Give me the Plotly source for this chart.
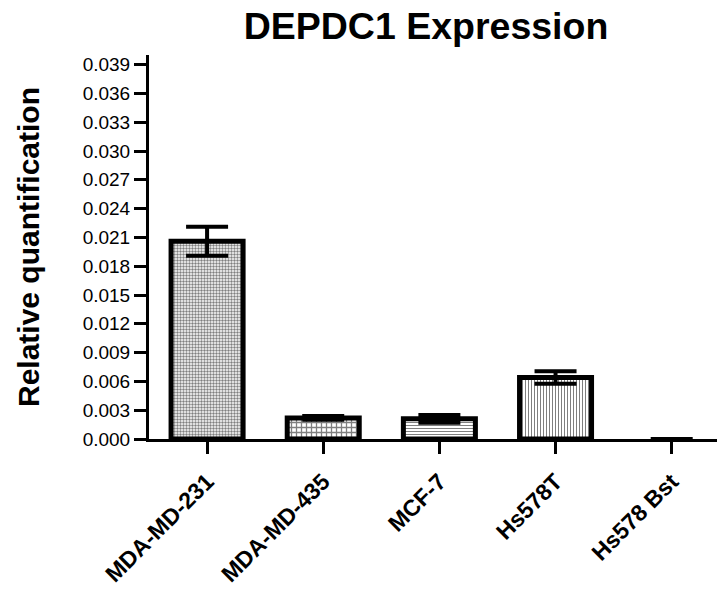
import plotly.graph_objects as go

categories = ["MDA-MD-231", "MDA-MD-435", "MCF-7", "Hs578T", "Hs578 Bst"]
values = [0.0206, 0.0022, 0.0021, 0.0064, 0.0]
errors = [0.0015, 0.0002, 0.0004, 0.00065, 0.00001]
patterns = [".", "+", "-", "|", ""]
pattern_sizes = [3, 5, 3, 3, 3]
pattern_solidity = [0.5, 0.45, 0.35, 0.35, 0.3]
outline_widths = [5, 5, 5, 5, 0]

y_ticks = [round(i * 0.003, 3) for i in range(14)]

fig = go.Figure()
fig.add_trace(go.Bar(
    x=list(range(len(categories))),
    y=values,
    width=0.62,
    marker=dict(
        color="white",
        line=dict(color="black", width=outline_widths),
        pattern=dict(shape=patterns, size=pattern_sizes, solidity=pattern_solidity,
                     fgcolor="black", bgcolor="white", fillmode="overlay"),
    ),
    error_y=dict(type="data", array=errors, visible=True, color="black",
                 thickness=4, width=21),
    showlegend=False,
))

font = "Liberation Sans, Arial, sans-serif"
fig.update_layout(
    width=717, height=594,
    margin=dict(l=149, r=0, t=55, b=155),
    paper_bgcolor="white", plot_bgcolor="white",
    font=dict(family=font, color="black"),
    title=dict(text="<b>DEPDC1 Expression</b>", xref="container", x=426 / 717,
               xanchor="center", yref="container", y=1 - 26 / 594, yanchor="middle",
               font=dict(size=37.5, family=font)),
    xaxis=dict(
        range=[-0.5, 4.39],
        automargin=False,
        tickmode="array", tickvals=list(range(len(categories))),
        ticktext=["<b>%s</b>" % c for c in categories],
        tickangle=-45, tickfont=dict(size=23, family=font),
        ticklabelstandoff=5,
        showline=True, linecolor="black", linewidth=3,
        ticks="outside", ticklen=12, tickwidth=3, tickcolor="black",
        showgrid=False, zeroline=False,
    ),
    yaxis=dict(
        range=[0, 0.0400],
        automargin=False,
        tickmode="array", tickvals=y_ticks,
        ticktext=["%.3f" % t for t in y_ticks],
        tickfont=dict(size=19, family=font),
        showline=True, linecolor="black", linewidth=3,
        ticks="outside", ticklen=12, tickwidth=3, tickcolor="black",
        showgrid=False, zeroline=False,
        title=dict(text="<b>Relative quantification</b>", font=dict(size=30, family=font),
                   standoff=35),
    ),
)

fig.write_html("out.html")
